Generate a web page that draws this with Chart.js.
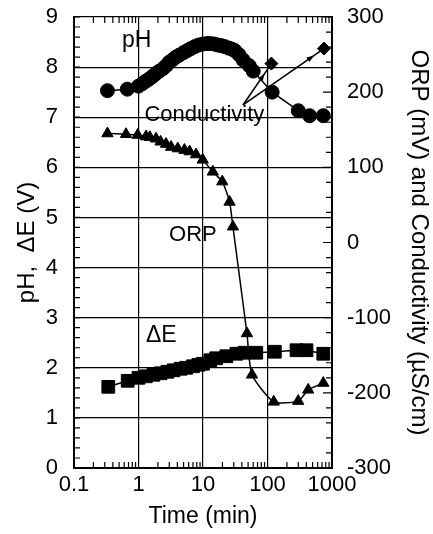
<!DOCTYPE html>
<html><head><meta charset="utf-8">
<script src="https://cdn.jsdelivr.net/npm/chart.js@4"></script>
<style>html,body{margin:0;padding:0;background:#fff;}canvas{display:block;}</style>
</head><body>
<canvas id="c" width="433" height="534"></canvas>
<script>
// ---------- data ----------
const timeTicks = [0.1, 1, 10, 100, 1000];
const leftTicks = [0, 1, 2, 3, 4, 5, 6, 7, 8, 9];
const rightTicks = [-300, -200, -100, 0, 100, 200, 300];

const phTime   = [0.33, 0.67, 1.0, 1.15, 1.3, 1.45, 1.6, 1.75, 1.9, 2.1, 2.4, 2.7, 3.0, 3.4, 3.8, 4.3, 5.0, 5.7, 6.5, 7.5, 8.5, 9.9, 11.5, 13, 15, 17, 19, 21.6, 25, 28, 31, 36, 42, 52, 60, 118, 300, 450, 733];
const phValues = [7.53, 7.56, 7.62, 7.67, 7.72, 7.76, 7.80, 7.84, 7.88, 7.92, 7.97, 8.03, 8.10, 8.15, 8.20, 8.24, 8.29, 8.33, 8.37, 8.41, 8.44, 8.46, 8.47, 8.47, 8.46, 8.44, 8.43, 8.41, 8.38, 8.36, 8.33, 8.25, 8.14, 8.03, 7.92, 7.50, 7.13, 7.03, 7.03];

const orpTime   = [0.33, 0.64, 0.97, 1.31, 1.5, 1.87, 2.2, 2.67, 3.2, 4.06, 5.15, 6.2, 7.8, 9.9, 14.2, 19.9, 25.8, 29.1, 48, 57.5, 125, 299, 428, 733];
const orpValues = [145, 144, 143, 141, 140, 138, 134, 131, 127, 125, 123, 121, 117, 110, 94, 81, 54, 21, -121, -176, -212, -211, -196, -187];

const deTime   = [0.34, 0.68, 1.0, 1.3, 1.7, 2.2, 2.8, 3.5, 4.5, 5.5, 7, 8.5, 10, 13, 16, 23, 33, 44, 67, 130, 282, 403, 733];
const deValues = [1.62, 1.74, 1.80, 1.83, 1.86, 1.89, 1.92, 1.95, 1.98, 2.00, 2.03, 2.06, 2.08, 2.15, 2.19, 2.23, 2.28, 2.30, 2.30, 2.32, 2.35, 2.35, 2.28];

const condTime   = [115, 750];
const condValues = [238, 258];
const condLabelAnchor = {time: 41.7, value: 183};

const labelTexts = [
  {text: 'pH', time: 0.94, value: 8.52, size: 23},
  {text: 'Conductivity', time: 10.5, value: 7.04, size: 22},
  {text: 'ORP', time: 6.98, value: 4.65, size: 22},
  {text: '\u0394E', time: 2.26, value: 2.65, size: 23}
];

const pts = (xs, ys) => xs.map((x, i) => ({x, y: ys[i]}));
const FONT = '"Liberation Sans", Arial, Helvetica, sans-serif';

const extras = {
  id: 'extras',
  afterDatasetsDraw(chart) {
    const ctx = chart.ctx, xs = chart.scales.x, ys = chart.scales.y, ys2 = chart.scales.y2, a = chart.chartArea;
    ctx.save();
    ctx.strokeStyle = '#000';
    ctx.lineWidth = 1.2;
    ctx.beginPath();
    for (let i = 0; i <= 45; i++) {
      const py = ys.getPixelForValue(i * 0.2);
      ctx.moveTo(a.left, py); ctx.lineTo(a.left + 6, py);
    }
    for (let i = 0; i <= 30; i++) {
      const v = -300 + i * 20;
      const py = ys2.getPixelForValue(v);
      const len = (v % 100 === 0) ? 9 : 6;
      ctx.moveTo(a.right, py); ctx.lineTo(a.right - len, py);
    }
    for (let d = 0; d < timeTicks.length - 1; d++) {
      for (let k = 2; k <= 9; k++) {
        const px = xs.getPixelForValue(timeTicks[d] * k);
        ctx.moveTo(px, a.bottom); ctx.lineTo(px, a.bottom - 6);
        ctx.moveTo(px, a.top); ctx.lineTo(px, a.top + 6);
      }
    }
    ctx.stroke();

    const ax = xs.getPixelForValue(condLabelAnchor.time);
    const ay = ys2.getPixelForValue(condLabelAnchor.value);
    ctx.lineWidth = 1.6;
    condTime.forEach((t, i) => {
      const tx = xs.getPixelForValue(t), ty = ys2.getPixelForValue(condValues[i]);
      ctx.beginPath(); ctx.moveTo(ax, ay); ctx.lineTo(tx, ty); ctx.stroke();
      const ang = Math.atan2(ty - ay, tx - ax);
      const hx = tx - Math.cos(ang) * 12, hy = ty - Math.sin(ang) * 12;
      ctx.beginPath();
      ctx.moveTo(hx, hy);
      ctx.lineTo(hx - Math.cos(ang - 0.35) * 8, hy - Math.sin(ang - 0.35) * 8);
      ctx.lineTo(hx - Math.cos(ang + 0.35) * 8, hy - Math.sin(ang + 0.35) * 8);
      ctx.closePath(); ctx.fillStyle = '#000'; ctx.fill();
    });

    ctx.fillStyle = '#000';
    ctx.textAlign = 'center';
    ctx.textBaseline = 'middle';
    labelTexts.forEach(l => {
      ctx.font = l.size + 'px ' + FONT;
      ctx.fillText(l.text, xs.getPixelForValue(l.time), ys.getPixelForValue(l.value));
    });
    ctx.restore();
  }
};

const lineStyle = {borderColor: '#000', backgroundColor: '#000', pointBackgroundColor: '#000', pointBorderColor: '#000', borderWidth: 1.5, pointBorderWidth: 1, showLine: true};

new Chart(document.getElementById('c'), {
  type: 'scatter',
  data: {
    datasets: [
      Object.assign({label: 'pH', data: pts(phTime, phValues), yAxisID: 'y', pointStyle: 'circle', pointRadius: 7}, lineStyle),
      Object.assign({label: 'ORP', data: pts(orpTime, orpValues), yAxisID: 'y2', pointStyle: 'triangle', pointRadius: 6.5, tension: 0.2}, lineStyle),
      Object.assign({label: 'dE', data: pts(deTime, deValues), yAxisID: 'y', pointStyle: 'rect', pointRadius: 9}, lineStyle),
      Object.assign({}, lineStyle, {label: 'Conductivity', data: pts(condTime, condValues), yAxisID: 'y2', pointStyle: 'rectRot', pointRadius: 6.5, showLine: false})
    ]
  },
  options: {
    responsive: false,
    animation: false,
    devicePixelRatio: 1,
    layout: {padding: {top: 17, left: 0, right: 0, bottom: 0}},
    plugins: {legend: {display: false}, tooltip: {enabled: false}},
    scales: {
      x: {
        type: 'logarithmic', position: 'bottom', min: 0.1, max: 1000,
        afterBuildTicks: s => { s.ticks = timeTicks.map(v => ({value: v})); },
        afterFit: s => { s.height = 66; s.paddingLeft = 0; s.paddingRight = 0; },
        ticks: {color: '#000', font: {family: FONT, size: 22}, padding: 4, maxRotation: 0, autoSkip: false,
                callback: v => String(v)},
        grid: {color: '#000', lineWidth: 1.2, drawTicks: false},
        border: {color: '#000', width: 2},
        title: {display: true, text: 'Time (min)', color: '#000', font: {family: FONT, size: 23}, padding: {top: 0, bottom: 4}}
      },
      y: {
        type: 'linear', position: 'left', min: 0, max: 9,
        afterBuildTicks: s => { s.ticks = leftTicks.map(v => ({value: v})); },
        afterFit: s => { s.width = 74; s.paddingTop = 0; s.paddingBottom = 0; },
        ticks: {color: '#000', font: {family: FONT, size: 22}, padding: 16},
        grid: {color: '#000', lineWidth: 1.2, drawTicks: false},
        border: {color: '#000', width: 2},
        title: {display: true, text: 'pH,  \u0394E (V)', color: '#000', font: {family: FONT, size: 24}, padding: {top: 13, bottom: 0}}
      },
      y2: {
        type: 'linear', position: 'right', min: -300, max: 300,
        afterBuildTicks: s => { s.ticks = rightTicks.map(v => ({value: v})); },
        afterFit: s => { s.width = 101; s.paddingTop = 0; s.paddingBottom = 0; },
        ticks: {color: '#000', font: {family: FONT, size: 22}, padding: 15},
        grid: {display: false, drawTicks: false},
        border: {color: '#000', width: 2},
        title: {display: true, text: 'ORP (mV) and Conductivity (\u00b5S/cm)', color: '#000', font: {family: FONT, size: 24}, padding: {top: 0, bottom: 0}}
      }
    }
  },
  plugins: [extras]
});
</script>
</body></html>
